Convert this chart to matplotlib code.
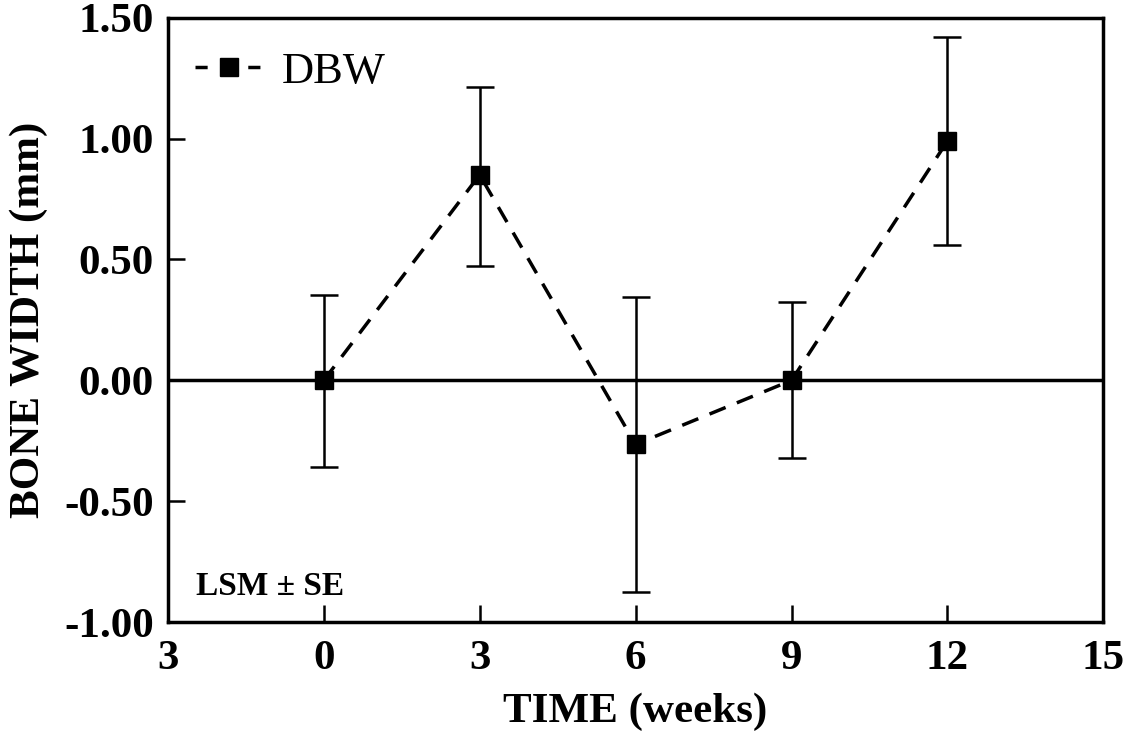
import matplotlib
matplotlib.use("Agg")
import matplotlib.pyplot as plt

weeks = [0, 3, 6, 9, 12]
dbw = [0.00, 0.85, -0.265, 0.00, 0.99]
se_upper = [0.355, 0.365, 0.61, 0.325, 0.43]
se_lower = [0.36, 0.375, 0.61, 0.32, 0.43]
xtick_vals = [-3, 0, 3, 6, 9, 12, 15]
xtick_labels = ["3", "0", "3", "6", "9", "12", "15"]
ytick_vals = [-1.0, -0.5, 0.0, 0.5, 1.0, 1.5]
ytick_labels = ["-1.00", "-0.50", "0.00", "0.50", "1.00", "1.50"]

plt.rcParams['font.family'] = ['Liberation Serif', 'DejaVu Serif']
plt.rcParams['font.weight'] = 'bold'

fig = plt.figure(figsize=(11.34, 7.38), dpi=100)
ax = fig.add_axes([0.148, 0.157, 0.825, 0.819])

ax.axhline(0, color='black', lw=2.5, zorder=1)
ax.errorbar(weeks, dbw, yerr=[se_lower, se_upper], fmt='none', ecolor='black',
            elinewidth=1.8, capsize=10, capthick=1.8, zorder=2)
ax.plot(weeks, dbw, linestyle=(0, (5, 3.5)), color='black', lw=2.5,
        marker='s', markersize=13, markerfacecolor='black', zorder=3, label='DBW')

ax.set_xlim(-3, 15)
ax.set_ylim(-1.0, 1.5)
ax.set_xticks(xtick_vals)
ax.set_xticklabels(xtick_labels)
ax.set_yticks(ytick_vals)
ax.set_yticklabels(ytick_labels)
ax.tick_params(axis='both', direction='in', length=12, width=1.8, labelsize=31,
               top=False, right=False)
ax.tick_params(axis='x', pad=13)
ax.tick_params(axis='y', pad=10)
for lbl in ax.get_xticklabels() + ax.get_yticklabels():
    lbl.set_fontweight('bold')
for s in ax.spines.values():
    s.set_linewidth(2.5)

ax.set_xlabel('TIME (weeks)', fontsize=31, fontweight='bold', labelpad=10)
ax.set_ylabel('BONE WIDTH (mm)', fontsize=31, fontweight='bold', labelpad=12)

ax.text(0.03, 0.045, 'LSM ± SE', transform=ax.transAxes, fontsize=24,
        fontweight='bold', ha='left', va='baseline')

leg = ax.legend(loc='upper left', frameon=False, fontsize=32, handlelength=1.5,
                handletextpad=0.45, markerscale=1.0, borderaxespad=0.3,
                bbox_to_anchor=(-0.004, 0.995))
for t in leg.get_texts():
    t.set_fontweight('normal')
for ln in leg.get_lines():
    ln.set_dashes([3.5, 4.1])

fig.savefig('out.png', dpi=100, facecolor='white')
